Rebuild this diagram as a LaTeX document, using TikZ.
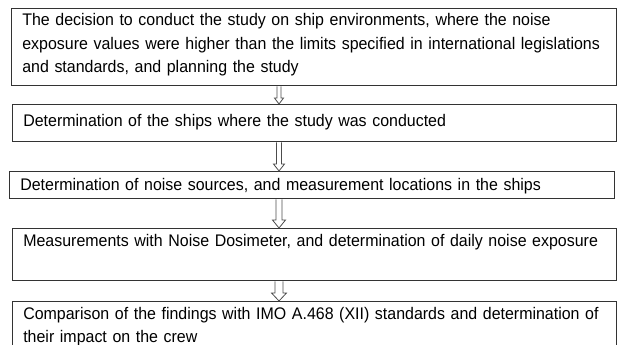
\documentclass[tikz,border=0pt]{standalone}
\usepackage{fontspec}
\setmainfont[FakeStretch=0.95, WordSpace=0.8]{Liberation Sans}
\usetikzlibrary{calc}
\hyphenpenalty=10000
\exhyphenpenalty=10000

\tikzset{
  stepbox/.style={draw=black!80, line width=0.95pt, rectangle, anchor=north west,
    inner xsep=8pt, inner ysep=0pt, align=left,
    font=\fontsize{12.6}{17.4}\selectfont},
  blockarr/.style args={#1/#2/#3}{draw=black!70, line width=0.6pt,
    to path={let \p1=(\tikztostart), \p2=(\tikztotarget) in
      (\x1-#1,\y1) -- (\x1-#1,\y2+#3) -- (\x1-#2,\y2+#3) -- (\x1,\y2)
      -- (\x1+#2,\y2+#3) -- (\x1+#1,\y2+#3) -- (\x1+#1,\y1)}}
}

\begin{document}
\begin{tikzpicture}[x=0.75pt,y=-0.75pt]
	\useasboundingbox (0,0) rectangle (618,345);
	
	% Text Node
	\node[stepbox, text width=437.75pt, text height=12.9pt, text depth=44.85pt] (decide) at (11,8)
	{The decision to conduct the study on ship environments, where the noise\\
	 exposure values were higher than the limits specified in international legislations\\
	 and standards, and planning the study};
	% Text Node
	\node[stepbox, text width=437pt, text height=16.2pt, text depth=11.55pt] (ships) at (12,104)
	{Determination of the ships where the study was conducted};
	% Text Node
	\node[stepbox, text width=437.75pt, text height=14pt, text depth=6.25pt] (sources) at (9,171)
	{Determination of noise sources, and measurement locations in the ships};
	% Text Node
	\node[stepbox, text width=437pt, text height=13.4pt, text depth=25.6pt] (measure) at (12,228)
	{Measurements with Noise Dosimeter, and determination of daily noise exposure};
	% Text Node
	\node[stepbox, text width=437pt, text height=13.6pt, text depth=25.4pt] (compare) at (12,301)
	{Comparison of the findings with IMO A.468 (XII) standards and determination of\\
	 their impact on the crew};
	
	%Block Arrows
	\coordinate (ax) at (279,0);
	\draw[blockarr=1.5pt/3.4pt/4.5pt] (decide.south -| ax) to (ships.north -| ax);
	\draw[blockarr=1.9pt/4.1pt/5.2pt] (ships.south -| ax) to (sources.north -| ax);
	\draw[blockarr=2.3pt/4.9pt/6pt] (sources.south -| ax) to (measure.north -| ax);
	\draw[blockarr=3pt/5.6pt/6pt] (measure.south -| ax) to (compare.north -| ax);
\end{tikzpicture}
\end{document}
